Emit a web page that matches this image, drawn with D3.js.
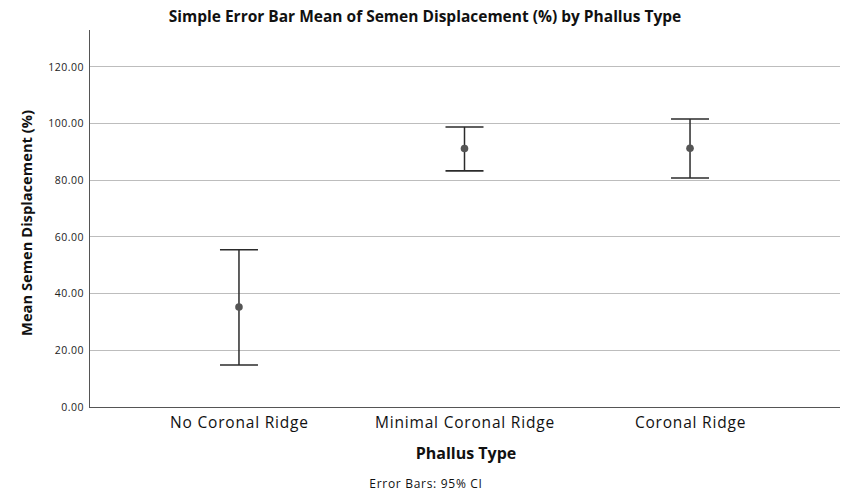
<!DOCTYPE html>
<html><head><meta charset="utf-8">
<script src="https://cdn.jsdelivr.net/npm/d3@7"></script>
<style>body{margin:0;background:#fff}</style>
</head><body>
<script>
const categories = ["No Coronal Ridge", "Minimal Coronal Ridge", "Coronal Ridge"];
const means = [35.3, 91.2, 91.3];
const lowerCI = [14.8, 83.3, 80.8];
const upperCI = [55.5, 98.8, 101.6];
const yTicks = [0, 20, 40, 60, 80, 100, 120];

const W = 850, H = 500;
const m = {left: 89, right: 10, top: 30, bottom: 93};
const svg = d3.select("body").append("svg").attr("width", W).attr("height", H);
const font = "'Open Sans', 'DejaVu Sans', sans-serif";

const x = d3.scalePoint().domain(categories).range([m.left, W - m.right]).padding(0.665);
const y = d3.scaleLinear().domain([0, 133]).range([H - m.bottom, m.top]);

// gridlines
svg.append("g").selectAll("line").data(yTicks.filter(d => d > 0)).join("line")
  .attr("x1", m.left).attr("x2", W - m.right)
  .attr("y1", d => y(d)).attr("y2", d => y(d))
  .attr("stroke", "#bdbdbd").attr("stroke-width", 1).attr("shape-rendering", "crispEdges");

// y axis
const yAxis = svg.append("g").attr("transform", `translate(${m.left},0)`)
  .call(d3.axisLeft(y).tickValues(yTicks).tickFormat(d3.format(".2f")).tickSize(5).tickPadding(0));
yAxis.select(".domain").attr("stroke", "#555").attr("d", `M0,${y(0)}V${m.top}`).attr("shape-rendering", "crispEdges");
yAxis.selectAll(".tick line").attr("stroke", "#bdbdbd").attr("x2", 0);
yAxis.selectAll(".tick text").attr("font-family", font).attr("font-size", 10.5)
  .attr("letter-spacing", "0.5px").attr("fill", "#222").attr("x", -5);

// x axis
const xAxis = svg.append("g").attr("transform", `translate(0,${y(0)})`)
  .call(d3.axisBottom(x).tickSize(0).tickPadding(6));
xAxis.select(".domain").attr("stroke", "#555").attr("d", `M${m.left},0H${W - m.right}`).attr("shape-rendering", "crispEdges");
xAxis.selectAll(".tick text").attr("font-family", font).attr("font-size", 15.5)
  .attr("letter-spacing", "0.8px").attr("fill", "#111").attr("dy", "0.95em");

// error bars
const data = categories.map((c, i) => ({c, m: means[i], lo: lowerCI[i], hi: upperCI[i]}));
const g = svg.append("g");
const capW = 19;
g.selectAll(".stem").data(data).join("line")
  .attr("x1", d => x(d.c)).attr("x2", d => x(d.c))
  .attr("y1", d => y(d.hi)).attr("y2", d => y(d.lo))
  .attr("stroke", "#2b2b2b").attr("stroke-width", 1.5);
g.selectAll(".capT").data(data).join("line")
  .attr("x1", d => x(d.c) - capW).attr("x2", d => x(d.c) + capW)
  .attr("y1", d => y(d.hi)).attr("y2", d => y(d.hi))
  .attr("stroke", "#2b2b2b").attr("stroke-width", 1.6);
g.selectAll(".capB").data(data).join("line")
  .attr("x1", d => x(d.c) - capW).attr("x2", d => x(d.c) + capW)
  .attr("y1", d => y(d.lo)).attr("y2", d => y(d.lo))
  .attr("stroke", "#2b2b2b").attr("stroke-width", 1.6);
g.selectAll("circle").data(data).join("circle")
  .attr("cx", d => x(d.c)).attr("cy", d => y(d.m)).attr("r", 3.8)
  .attr("fill", "#555");

// titles
svg.append("text").attr("x", 425).attr("y", 22).attr("text-anchor", "middle")
  .attr("font-family", font).attr("font-weight", "bold").attr("font-size", 15.5).attr("fill", "#111")
  .text("Simple Error Bar Mean of Semen Displacement (%) by Phallus Type");
svg.append("text").attr("x", 466).attr("y", 459).attr("text-anchor", "middle")
  .attr("font-family", font).attr("font-weight", "bold").attr("font-size", 16).attr("fill", "#111")
  .text("Phallus Type");
svg.append("text").attr("transform", "translate(32,223) rotate(-90)").attr("text-anchor", "middle")
  .attr("font-family", font).attr("font-weight", "bold").attr("font-size", 14.7).attr("fill", "#111")
  .text("Mean Semen Displacement (%)");
svg.append("text").attr("x", 426).attr("y", 488).attr("text-anchor", "middle")
  .attr("font-family", font).attr("font-size", 12).attr("letter-spacing", "0.7px").attr("fill", "#111")
  .text("Error Bars: 95% CI");
</script>
</body></html>
